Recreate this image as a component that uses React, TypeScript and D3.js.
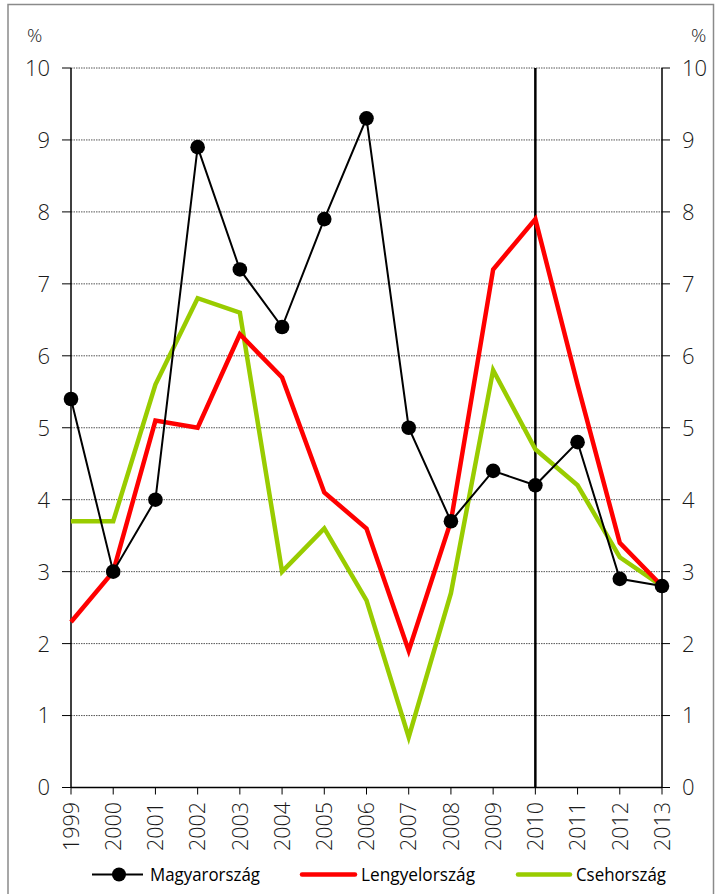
import React from "react";
import * as d3 from "d3";

const years = ["1999","2000","2001","2002","2003","2004","2005","2006","2007","2008","2009","2010","2011","2012","2013"];
const magyarorszag = [5.4, 3.0, 4.0, 8.9, 7.2, 6.4, 7.9, 9.3, 5.0, 3.7, 4.4, 4.2, 4.8, 2.9, 2.8];
const lengyelorszag = [2.3, 3.0, 5.1, 5.0, 6.3, 5.7, 4.1, 3.6, 1.9, 3.7, 7.2, 7.9, 5.6, 3.4, 2.8];
const csehorszag = [3.7, 3.7, 5.6, 6.8, 6.6, 3.0, 3.6, 2.6, 0.7, 2.7, 5.8, 4.7, 4.2, 3.2, 2.8];
const yTicks = [0, 1, 2, 3, 4, 5, 6, 7, 8, 9, 10];
const seriesNames = ["Magyarország", "Lengyelország", "Csehország"];
const markerYear = "2010";

const W = 719, H = 894;
const left = 71, right = 662, top = 68, bottom = 787.5;

export default function App() {
  const x = d3.scalePoint<string>().domain(years).range([left, right]);
  const y = d3.scaleLinear().domain([0, 10]).range([bottom, top]);
  const line = d3.line<number>().x((_, i) => x(years[i])!).y((d) => y(d));
  const axisFont = "'Open Sans', 'DejaVu Sans', sans-serif";
  const legendFont = "'Open Sans', 'DejaVu Sans', sans-serif";
  const textColor = "#1a1a1a";
  const ly = 874.5;

  return (
    <div style={{ position: "absolute", left: 0, top: 0 }}>
      <svg width={W} height={H} style={{ display: "block" }}>
        <rect x={0} y={0} width={W} height={H} fill="#fff" />
        <rect x={8} y={4.5} width={705.5} height={900} fill="none" stroke="#8a8a8a" strokeWidth={1.5} />
        {yTicks.map((t) => (
          <g key={t}>
            {t > 0 && (
              <line x1={left} x2={right} y1={y(t)} y2={y(t)} stroke="#555" strokeWidth={1} strokeDasharray="1.5,1" />
            )}
            <line x1={left - 9} x2={left} y1={y(t)} y2={y(t)} stroke="#000" strokeWidth={1} />
            <line x1={right} x2={right + 8} y1={y(t)} y2={y(t)} stroke="#000" strokeWidth={1} />
            <text x={50} y={y(t)} dy="0.36em" textAnchor="end" fontFamily={axisFont} fontWeight={300} fontSize={22} fill={textColor}>{t}</text>
            <text x={682} y={y(t)} dy="0.36em" textAnchor="start" fontFamily={axisFont} fontWeight={300} fontSize={22} fill={textColor}>{t}</text>
          </g>
        ))}
        <text x={27} y={42} fontFamily={axisFont} fontWeight={300} fontSize={19} fill={textColor}>%</text>
        <text x={691} y={42} fontFamily={axisFont} fontWeight={300} fontSize={19} fill={textColor}>%</text>
        <line x1={left} x2={left} y1={top} y2={bottom} stroke="#000" strokeWidth={1.5} />
        <line x1={right} x2={right} y1={top} y2={bottom} stroke="#000" strokeWidth={1.5} />
        <line x1={left} x2={right} y1={bottom} y2={bottom} stroke="#000" strokeWidth={1.5} />
        {years.map((yr) => (
          <g key={yr}>
            <line x1={x(yr)!} x2={x(yr)!} y1={bottom} y2={bottom + 7} stroke="#000" strokeWidth={1} />
            <text
              transform={`translate(${x(yr)!},${802}) rotate(-90)`}
              dy="0.36em"
              textAnchor="end"
              fontFamily={axisFont}
              fontWeight={300}
              fontSize={21.5}
              fill={textColor}
            >
              {yr}
            </text>
          </g>
        ))}
        <line x1={x(markerYear)!} x2={x(markerYear)!} y1={top} y2={bottom} stroke="#000" strokeWidth={2.5} />
        <path d={line(csehorszag)!} fill="none" stroke="#99cc00" strokeWidth={4.5} />
        <path d={line(lengyelorszag)!} fill="none" stroke="#ff0000" strokeWidth={4.5} />
        <path d={line(magyarorszag)!} fill="none" stroke="#000" strokeWidth={2} />
        {magyarorszag.map((v, i) => (
          <circle key={i} cx={x(years[i])!} cy={y(v)} r={7.3} fill="#000" />
        ))}
        <g>
          <line x1={92} x2={143} y1={ly} y2={ly} stroke="#000" strokeWidth={2} />
          <circle cx={119} cy={ly} r={7} fill="#000" />
          <text x={150} y={ly} dy="0.36em" textLength={110} lengthAdjust="spacingAndGlyphs" fontFamily={legendFont} fontSize={18} fill="#000">{seriesNames[0]}</text>
          <line x1={302} x2={355} y1={ly} y2={ly} stroke="#ff0000" strokeWidth={4.5} strokeLinecap="round" />
          <text x={361} y={ly} dy="0.36em" textLength={114} lengthAdjust="spacingAndGlyphs" fontFamily={legendFont} fontSize={18} fill="#000">{seriesNames[1]}</text>
          <line x1={518} x2={570} y1={ly} y2={ly} stroke="#99cc00" strokeWidth={4.5} strokeLinecap="round" />
          <text x={576} y={ly} dy="0.36em" textLength={90} lengthAdjust="spacingAndGlyphs" fontFamily={legendFont} fontSize={18} fill="#000">{seriesNames[2]}</text>
        </g>
      </svg>
    </div>
  );
}
